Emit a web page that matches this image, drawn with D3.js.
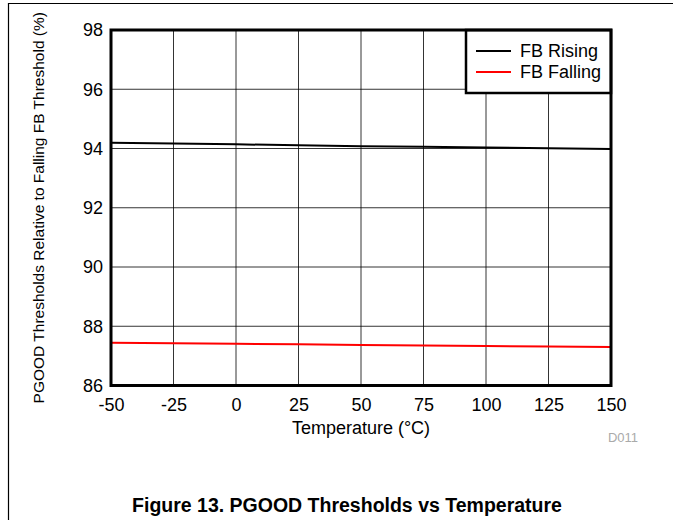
<!DOCTYPE html>
<html><head><meta charset="utf-8">
<script src="https://cdn.jsdelivr.net/npm/d3@7"></script>
<style>body{margin:0;background:#fff}svg{display:block}text{font-family:"Liberation Sans",Arial,sans-serif}</style>
</head><body>
<script>
const temps = [-50, -25, 0, 25, 50, 75, 100, 125, 150];
const fbRising = [94.19, 94.17, 94.14, 94.11, 94.08, 94.06, 94.03, 94.01, 93.98];
const fbFalling = [87.44, 87.43, 87.41, 87.39, 87.37, 87.35, 87.33, 87.32, 87.30];
const xTicks = [-50, -25, 0, 25, 50, 75, 100, 125, 150];
const yTicks = [86, 88, 90, 92, 94, 96, 98];
const seriesNames = ["FB Rising", "FB Falling"];
const seriesColors = ["#000000", "#ff0000"];

const W = 673, H = 520;
const svg = d3.select("body").append("svg").attr("width", W).attr("height", H);
const L = 111, R = 611, T = 30, B = 385.5;
const x = d3.scaleLinear().domain([-50, 150]).range([L, R]);
const y = d3.scaleLinear().domain([86, 98]).range([B, T]);

// outer frame
svg.append("path").attr("d", `M8.5,${H}V3.5H${W}`).attr("fill", "none").attr("stroke", "#000").attr("stroke-width", 1.2);

// grid
const g = svg.append("g");
g.selectAll(".vx").data(xTicks.slice(1, -1)).enter().append("line")
  .attr("x1", d => x(d)).attr("x2", d => x(d)).attr("y1", T).attr("y2", B)
  .attr("stroke", "#000").attr("stroke-width", 0.8);
g.selectAll(".hy").data(yTicks.slice(1, -1)).enter().append("line")
  .attr("x1", L).attr("x2", R).attr("y1", d => y(d)).attr("y2", d => y(d))
  .attr("stroke", "#000").attr("stroke-width", 0.8);

// axes via d3
const fmt = d => String(d);
const xAxis = d3.axisBottom(x).tickValues(xTicks).tickSize(0).tickPadding(13).tickFormat(fmt);
const yAxis = d3.axisLeft(y).tickValues(yTicks).tickSize(0).tickPadding(8).tickFormat(fmt);
const gx = svg.append("g").attr("transform", `translate(0,${B})`).call(xAxis);
const gy = svg.append("g").attr("transform", `translate(${L},0)`).call(yAxis);
[gx, gy].forEach(a => {
  a.select(".domain").remove();
  a.selectAll("text").attr("font-size", 18).attr("fill", "#000").attr("font-family", '"Liberation Sans",Arial,sans-serif');
});

// series
const line = d3.line().x((d, i) => x(temps[i])).y(d => y(d));
[fbRising, fbFalling].forEach((s, k) => {
  svg.append("path").datum(s).attr("d", line).attr("fill", "none")
    .attr("stroke", seriesColors[k]).attr("stroke-width", 2);
});

// legend
const lg = svg.append("g");
lg.append("rect").attr("x", 466).attr("y", T).attr("width", R - 466).attr("height", 63)
  .attr("fill", "#fff").attr("stroke", "#000").attr("stroke-width", 2.5);
seriesNames.forEach((n, i) => {
  const yy = 51 + i * 21;
  lg.append("line").attr("x1", 476).attr("x2", 511).attr("y1", yy).attr("y2", yy)
    .attr("stroke", seriesColors[i]).attr("stroke-width", 2);
  lg.append("text").attr("x", 520).attr("y", yy).attr("dy", "0.35em")
    .attr("font-size", 18).text(n);
});
// plot frame
svg.append("rect").attr("x", L).attr("y", T).attr("width", R - L).attr("height", B - T)
  .attr("fill", "none").attr("stroke", "#000").attr("stroke-width", 3);

// axis titles
svg.append("text").attr("x", (L + R) / 2).attr("y", 434).attr("text-anchor", "middle")
  .attr("font-size", 18).text("Temperature (°C)");
svg.append("text").attr("transform", `translate(44,${(T + B) / 2}) rotate(-90)`)
  .attr("text-anchor", "middle").attr("font-size", 15.5)
  .text("PGOOD Thresholds Relative to Falling FB Threshold (%)");
svg.append("text").attr("x", 638).attr("y", 442).attr("text-anchor", "end")
  .attr("font-size", 13).attr("fill", "#aaa").text("D011");
svg.append("text").attr("x", 347).attr("y", 512).attr("text-anchor", "middle")
  .attr("font-size", 19.5).attr("font-weight", "bold").text("Figure 13. PGOOD Thresholds vs Temperature");
</script>
</body></html>
